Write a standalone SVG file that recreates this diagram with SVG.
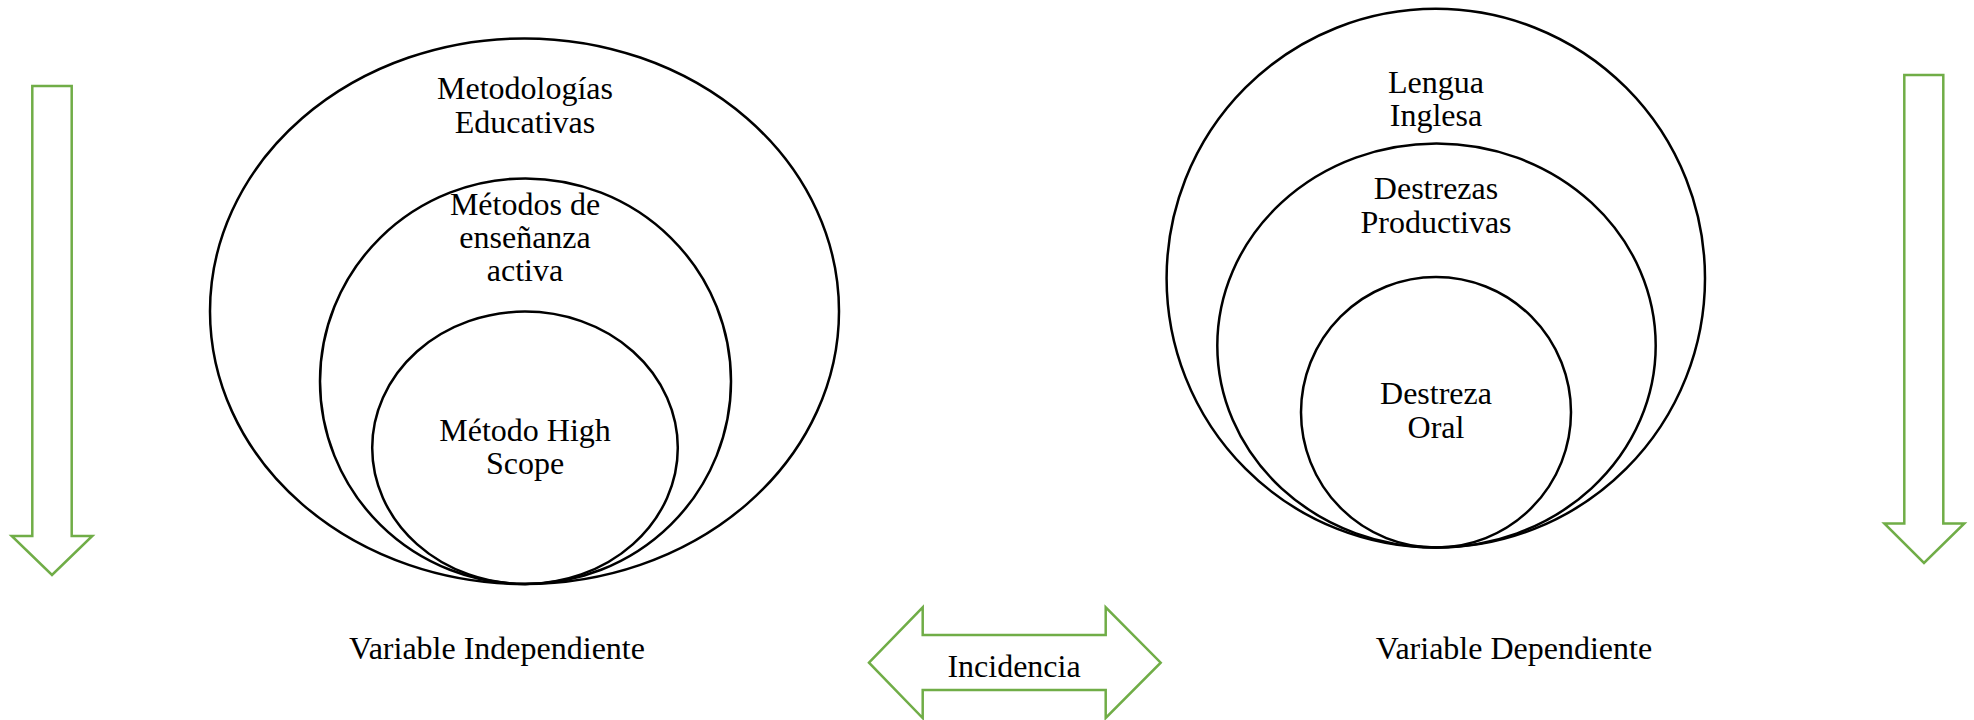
<svg xmlns="http://www.w3.org/2000/svg" width="1974" height="720" viewBox="0 0 1974 720">
<style>
.c{fill:none;stroke:#000;stroke-width:2.5}
.a{fill:#fff;stroke:#70AD47;stroke-width:2.5;stroke-linejoin:miter}
text{font-family:"Liberation Serif","Times New Roman",serif;font-size:32px;fill:#000;text-anchor:middle}
</style>
<rect width="1974" height="720" fill="#fff"/>
<g id="arrows">
<polygon id="arrow-left" class="a" points="32.3,86 71.7,86 71.7,536 92.3,536 52,575 11.7,536 32.3,536"/>
<polygon id="arrow-right" class="a" points="1904.3,75 1943.3,75 1943.3,523.5 1964.3,523.5 1924,563 1884.3,523.5 1904.3,523.5"/>
</g>
<g id="incidencia">
<polygon class="a" points="869,662.7 922.7,607.3 922.7,635 1105.7,635 1105.7,607.3 1160.7,662.7 1105.7,718 1105.7,690 922.7,690 922.7,718"/>
<text x="1014" y="677">Incidencia</text>
</g>
<g id="metodologias">
<ellipse class="c" cx="524.5" cy="311.2" rx="314.5" ry="272.8"/>
<text x="525" y="99">Metodologías</text>
<text x="525" y="133">Educativas</text>
</g>
<g id="metodos">
<ellipse class="c" cx="525.5" cy="381.2" rx="205.5" ry="202.8"/>
<text x="525" y="215">Métodos de</text>
<text x="525" y="248">enseñanza</text>
<text x="525" y="281">activa</text>
</g>
<g id="highscope">
<ellipse class="c" cx="525" cy="447.8" rx="152.8" ry="136.2"/>
<text x="525" y="441">Método High</text>
<text x="525" y="474">Scope</text>
</g>
<g id="lengua">
<ellipse class="c" cx="1435.8" cy="278.2" rx="269.2" ry="269.4"/>
<text x="1436" y="92.5">Lengua</text>
<text x="1436" y="126">Inglesa</text>
</g>
<g id="destrezas">
<ellipse class="c" cx="1436.5" cy="345.5" rx="219.2" ry="202"/>
<text x="1436" y="199">Destrezas</text>
<text x="1436" y="233">Productivas</text>
</g>
<g id="oral">
<ellipse class="c" cx="1436" cy="412.3" rx="135" ry="135.3"/>
<text x="1436" y="404">Destreza</text>
<text x="1436" y="438">Oral</text>
</g>
<g id="labels">
<text x="497" y="659">Variable Independiente</text>
<text x="1514" y="659">Variable Dependiente</text>
</g>
</svg>
